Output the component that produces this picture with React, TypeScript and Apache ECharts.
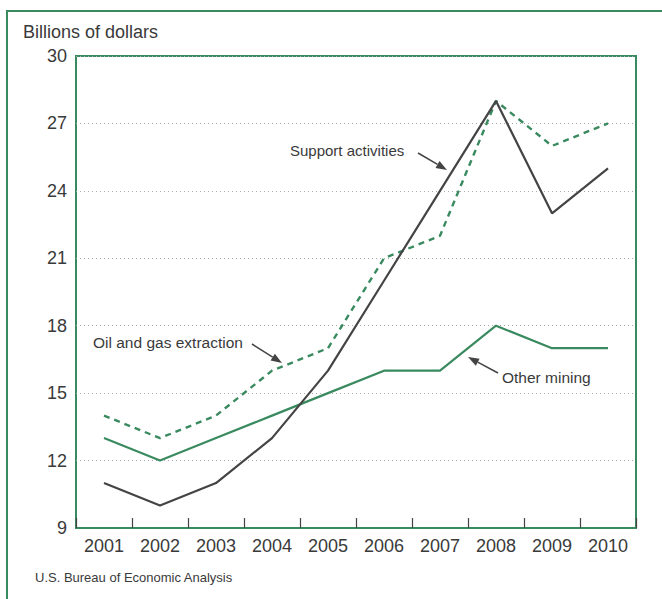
import React, { useEffect, useRef } from "react";
import * as echarts from "echarts";

const years = ["2001", "2002", "2003", "2004", "2005", "2006", "2007", "2008", "2009", "2010"];
const supportActivities = [11, 10, 11, 13, 16, 20, 24, 28, 23, 25];
const oilAndGas = [14, 13, 14, 16, 17, 21, 22, 28, 26, 27];
const otherMining = [13, 12, 13, 14, 15, 16, 16, 18, 17, 17];

const GREEN = "#3a8a60";
const DARK = "#444444";
const TEXT = "#3a3a3a";
const FONT = "'Liberation Sans', Arial, sans-serif";

function arrow(x1: number, y1: number, x2: number, y2: number) {
  const dx = x2 - x1;
  const dy = y2 - y1;
  const len = Math.sqrt(dx * dx + dy * dy);
  const ux = dx / len;
  const uy = dy / len;
  const hl = 11;
  const hw = 4;
  const bx = x2 - ux * hl;
  const by = y2 - uy * hl;
  return [
    {
      type: "line",
      shape: { x1, y1, x2: bx, y2: by },
      style: { stroke: DARK, lineWidth: 1.5 },
    },
    {
      type: "polygon",
      shape: {
        points: [
          [x2, y2],
          [bx - uy * hw, by + ux * hw],
          [bx + uy * hw, by - ux * hw],
        ],
      },
      style: { fill: DARK },
    },
  ];
}

export default function App() {
  const ref = useRef<HTMLDivElement>(null);
  useEffect(() => {
    if (!ref.current) return;
    const chart = echarts.init(ref.current, undefined, { renderer: "svg" });
    chart.setOption({
      animation: false,
      backgroundColor: "#ffffff",
      grid: {
        left: 76,
        right: 26,
        top: 56,
        bottom: 71,
        show: true,
        borderColor: GREEN,
        borderWidth: 2,
        backgroundColor: "transparent",
      },
      xAxis: {
        type: "category",
        data: years,
        boundaryGap: true,
        axisLine: { show: true, lineStyle: { color: GREEN, width: 2 } },
        axisTick: {
          show: true,
          inside: true,
          length: 10,
          interval: 0,
          lineStyle: { color: DARK, width: 1.2 },
        },
        axisLabel: { color: TEXT, fontSize: 18, fontFamily: FONT, margin: 9, interval: 0 },
        splitLine: { show: false },
      },
      yAxis: {
        type: "value",
        min: 9,
        max: 30,
        interval: 3,
        axisLine: { show: false },
        axisTick: { show: false },
        axisLabel: { color: TEXT, fontSize: 18, fontFamily: FONT, margin: 9 },
        splitLine: { show: true, lineStyle: { color: "#aaaaaa", type: [1, 3], width: 1 } },
      },
      series: [
        {
          name: "Support activities",
          type: "line",
          data: supportActivities,
          symbol: "none",
          lineStyle: { color: DARK, width: 2.2 },
          z: 3,
        },
        {
          name: "Oil and gas extraction",
          type: "line",
          data: oilAndGas,
          symbol: "none",
          lineStyle: { color: GREEN, width: 2.4, type: [6, 5] },
          z: 2,
        },
        {
          name: "Other mining",
          type: "line",
          data: otherMining,
          symbol: "none",
          lineStyle: { color: GREEN, width: 2.2 },
          z: 2,
        },
      ],
      graphic: [
        {
          type: "rect",
          shape: { x: 7, y: 11, width: 700, height: 700 },
          style: { fill: "none", stroke: GREEN, lineWidth: 2 },
          silent: true,
        },
        {
          type: "text",
          x: 23,
          y: 32,
          style: {
            text: "Billions of dollars",
            fill: TEXT,
            fontSize: 18,
            fontFamily: FONT,
            textVerticalAlign: "middle",
          },
        },
        {
          type: "text",
          x: 35,
          y: 577,
          style: {
            text: "U.S. Bureau of Economic Analysis",
            fill: TEXT,
            fontSize: 13,
            fontFamily: FONT,
            textVerticalAlign: "middle",
          },
        },
        {
          type: "text",
          x: 290,
          y: 150,
          style: {
            text: "Support activities",
            fill: TEXT,
            fontSize: 15,
            fontFamily: FONT,
            textVerticalAlign: "middle",
          },
        },
        {
          type: "text",
          x: 93,
          y: 342,
          style: {
            text: "Oil and gas extraction",
            fill: TEXT,
            fontSize: 15.5,
            fontFamily: FONT,
            textVerticalAlign: "middle",
          },
        },
        {
          type: "text",
          x: 502,
          y: 377,
          style: {
            text: "Other mining",
            fill: TEXT,
            fontSize: 15.5,
            fontFamily: FONT,
            textVerticalAlign: "middle",
          },
        },
        ...arrow(418, 153, 447, 170),
        ...arrow(252, 344, 282, 363),
        ...arrow(498, 373, 468, 357),
      ],
    });
    return () => chart.dispose();
  }, []);
  return (
    <div
      ref={ref}
      style={{ position: "fixed", left: 0, top: 0, width: 662, height: 599 }}
    />
  );
}
